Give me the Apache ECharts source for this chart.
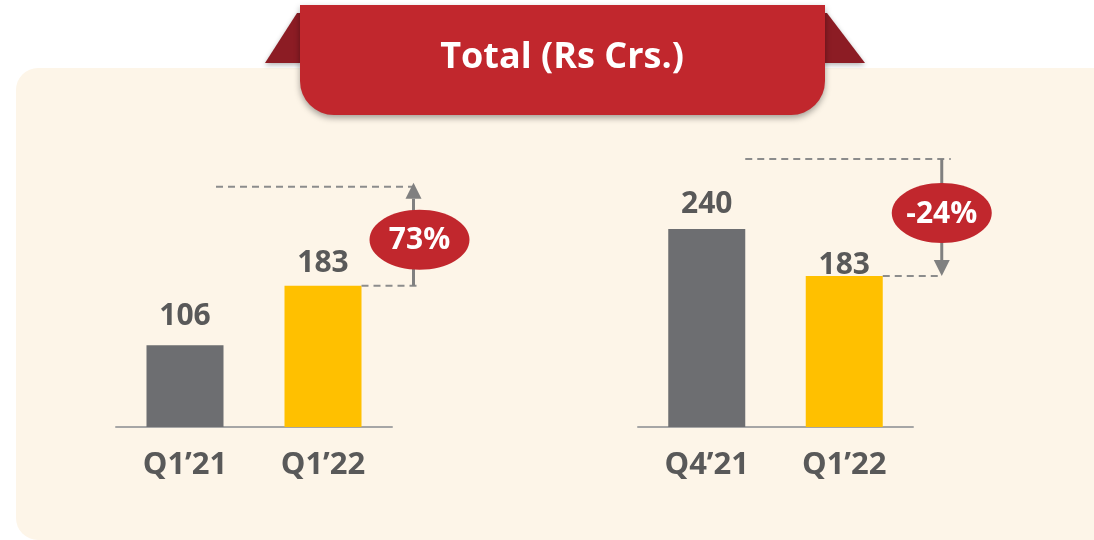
<!DOCTYPE html>
<html>
<head>
<meta charset="utf-8">
<title>Total (Rs Crs.)</title>
<script src="https://cdn.jsdelivr.net/npm/echarts@6/dist/echarts.min.js"></script>
<style>
  html, body { margin: 0; padding: 0; background: #ffffff; }
  #chart { width: 1094px; height: 540px; }
</style>
</head>
<body>
<div id="chart"></div>
<script>
// data
const titleText = "Total (Rs Crs.)";
const leftCategories = ["Q1’21", "Q1’22"];
const leftValues = [106, 183];
const leftChange = "73%";
const rightCategories = ["Q4’21", "Q1’22"];
const rightValues = [240, 183];
const rightChange = "-24%";

const GREY = "#6d6e71";
const YELLOW = "#ffc000";
const RED = "#c1272d";
const DARK_RED = "#8c1c24";
const CREAM = "#fdf5e8";
const TEXT = "#595959";
const FONT = "'Open Sans', 'DejaVu Sans', sans-serif";
const BAR_W = 77;

const chart = echarts.init(document.getElementById("chart"));

// gap between bar top and its value label, per bar
const leftGaps = [14, 7];
const rightGaps = [10, -4];

function barData(values, gaps) {
  return values.map((v, i) => ({
    value: v,
    itemStyle: { color: i === 0 ? GREY : YELLOW },
    label: { distance: gaps[i] }
  }));
}

function xAxisFor(idx, cats) {
  return {
    type: "category",
    gridIndex: idx,
    data: cats,
    axisLine: { lineStyle: { color: "#a6a6a6", width: 2 } },
    axisTick: { show: false },
    axisLabel: {
      color: TEXT,
      fontFamily: FONT,
      fontSize: 31,
      fontWeight: "bold",
      margin: 23
    }
  };
}

function yAxisFor(idx) {
  return {
    type: "value",
    gridIndex: idx,
    min: 0,
    max: 300,
    show: false,
    splitLine: { show: false }
  };
}

function barSeries(idx, values, gaps) {
  return {
    type: "bar",
    xAxisIndex: idx,
    yAxisIndex: idx,
    barWidth: BAR_W,
    data: barData(values, gaps),
    label: {
      show: true,
      position: "top",
      color: TEXT,
      fontFamily: FONT,
      fontSize: 30,
      fontWeight: "bold"
    }
  };
}

const staticGraphics = [
  // cream panel
  {
    type: "rect",
    z: -20,
    silent: true,
    shape: { x: 16, y: 68, width: 1078, height: 472, r: [22, 0, 0, 22] },
    style: { fill: CREAM }
  },
  // ribbon folds
  {
    type: "polygon",
    z: 50,
    shape: { points: [[265, 63], [297, 13], [302, 13], [302, 63]] },
    style: { fill: DARK_RED, shadowBlur: 5, shadowOffsetY: 2, shadowColor: "rgba(0,0,0,0.3)" }
  },
  {
    type: "polygon",
    z: 50,
    shape: { points: [[823, 13], [827, 13], [865, 63], [823, 63]] },
    style: { fill: DARK_RED, shadowBlur: 5, shadowOffsetY: 2, shadowColor: "rgba(0,0,0,0.3)" }
  },
  // banner
  {
    type: "rect",
    z: 51,
    shape: { x: 300, y: 5, width: 525, height: 110, r: [0, 0, 34, 34] },
    style: { fill: RED, shadowBlur: 6, shadowOffsetY: 3, shadowColor: "rgba(0,0,0,0.35)" }
  },
  {
    type: "text",
    z: 52,
    x: 562,
    y: 58,
    style: {
      text: titleText,
      fill: "#ffffff",
      font: "bold 36px " + FONT,
      align: "center",
      verticalAlign: "middle"
    }
  }
];

chart.setOption({
  animation: false,
  grid: [
    { left: 116, width: 276, top: 195.4, height: 231.6 },
    { left: 638, width: 275, top: 179.5, height: 247.5 }
  ],
  xAxis: [xAxisFor(0, leftCategories), xAxisFor(1, rightCategories)],
  yAxis: [yAxisFor(0), yAxisFor(1)],
  series: [barSeries(0, leftValues, leftGaps), barSeries(1, rightValues, rightGaps)],
  graphic: staticGraphics
});

// annotation helpers
const DASH = { stroke: "#8c8c8c", lineWidth: 2, lineDash: [7, 5] };
function dashed(x1, y1, x2, y2) {
  return { type: "line", z: 30, shape: { x1, y1, x2, y2 }, style: DASH };
}
function arrow(x, yFrom, yTo) {
  const dir = yTo < yFrom ? 1 : -1; // head points toward yTo
  const head = 16;
  return [
    {
      type: "line", z: 30,
      shape: { x1: x, y1: yFrom, x2: x, y2: yTo + dir * head },
      style: { stroke: "#808080", lineWidth: 3 }
    },
    {
      type: "polygon", z: 30,
      shape: { points: [[x - 8, yTo + dir * head], [x + 8, yTo + dir * head], [x, yTo]] },
      style: { fill: "#808080" }
    }
  ];
}
function badge(cx, cy, text) {
  return [
    { type: "ellipse", z: 40, shape: { cx, cy, rx: 50, ry: 30 }, style: { fill: RED } },
    {
      type: "text", z: 41, x: cx, y: cy + 1,
      style: { text, fill: "#ffffff", font: "bold 30px " + FONT, align: "center", verticalAlign: "middle" }
    }
  ];
}

// left panel: growth from first bar up to a level above the second
const l1 = chart.convertToPixel({ gridIndex: 0 }, [1, leftValues[1]]);
const lRight = l1[0] + BAR_W / 2;
const lArrowX = lRight + 52;
const lTopY = l1[1] - 99;
// right panel: decline from level above first bar down to second bar top
const r0 = chart.convertToPixel({ gridIndex: 1 }, [0, rightValues[0]]);
const r1 = chart.convertToPixel({ gridIndex: 1 }, [1, rightValues[1]]);
const rArrowX = r1[0] + BAR_W / 2 + 59;
const rTopY = r0[1] - 70;

const annotations = []
  .concat([dashed(216, lTopY, lArrowX + 6, lTopY), dashed(lRight, l1[1], lArrowX + 6, l1[1])])
  .concat(arrow(lArrowX, l1[1], lTopY - 4))
  .concat(badge(lArrowX + 6, l1[1] - 46, leftChange))
  .concat([dashed(r0[0] + BAR_W / 2, rTopY, rArrowX + 9, rTopY), dashed(r1[0] + BAR_W / 2, r1[1], rArrowX, r1[1])])
  .concat(arrow(rArrowX, rTopY, r1[1]))
  .concat(badge(rArrowX, rTopY + 54, rightChange));

chart.setOption({ graphic: staticGraphics.concat(annotations) });
</script>
</body>
</html>
